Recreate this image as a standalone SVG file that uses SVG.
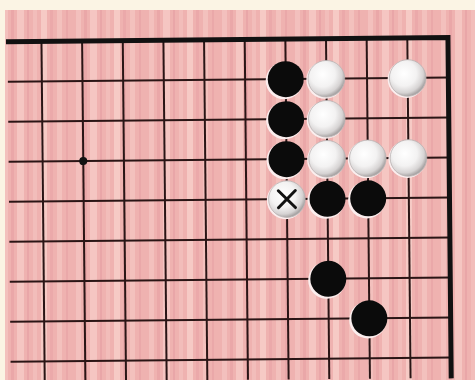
<svg xmlns="http://www.w3.org/2000/svg" width="475" height="380" viewBox="0 0 475 380">
<defs>
<style>
.ln{stroke:#2a1515;stroke-width:2;fill:none}
.edge{stroke:#111;stroke-width:5;fill:none;stroke-linecap:square}
.halo{fill:#fbeeee}
.b{fill:#0b0b0b}
.w{fill:url(#wg);stroke:#b9b4b4;stroke-width:0.8}
.x{stroke:#111;stroke-width:3;stroke-linecap:round}
</style>
<radialGradient id="wg" cx="40%" cy="38%" r="62%">
<stop offset="0" stop-color="#ffffff"/>
<stop offset="0.55" stop-color="#f3f2f2"/>
<stop offset="0.85" stop-color="#d6d3d3"/>
<stop offset="1" stop-color="#a9a5a5"/>
</radialGradient>
<pattern id="wood" patternUnits="userSpaceOnUse" width="73" height="380">
<rect width="73" height="380" fill="#efb2b0"/>
<rect x="3" width="5" height="380" fill="#f3c0bd"/>
<rect x="11" width="3" height="380" fill="#eaa7a8"/>
<rect x="17" width="7" height="380" fill="#f5c6c2"/>
<rect x="27" width="2" height="380" fill="#e9a6a8"/>
<rect x="33" width="4" height="380" fill="#f2bdba"/>
<rect x="41" width="6" height="380" fill="#f6cac5"/>
<rect x="50" width="3" height="380" fill="#eba9aa"/>
<rect x="57" width="5" height="380" fill="#f3c1bd"/>
<rect x="66" width="2" height="380" fill="#eaa8a9"/>
</pattern>
</defs>
<rect width="475" height="380" fill="#fbf4e4"/>
<rect x="5" y="10" width="470" height="370" fill="url(#wood)"/>
<g transform="rotate(-0.55 228 200)">
<g id="grid">
<line class="ln" x1="43" y1="39.7" x2="43" y2="380"/>
<line class="ln" x1="83.65" y1="39.7" x2="83.65" y2="380"/>
<line class="ln" x1="124.3" y1="39.7" x2="124.3" y2="380"/>
<line class="ln" x1="164.95" y1="39.7" x2="164.95" y2="380"/>
<line class="ln" x1="205.6" y1="39.7" x2="205.6" y2="380"/>
<line class="ln" x1="246.25" y1="39.7" x2="246.25" y2="380"/>
<line class="ln" x1="286.9" y1="39.7" x2="286.9" y2="380"/>
<line class="ln" x1="327.55" y1="39.7" x2="327.55" y2="380"/>
<line class="ln" x1="368.2" y1="39.7" x2="368.2" y2="380"/>
<line class="ln" x1="408.85" y1="39.7" x2="408.85" y2="380"/>
<line class="ln" x1="9" y1="79.7" x2="449.5" y2="79.7"/>
<line class="ln" x1="9" y1="119.7" x2="449.5" y2="119.7"/>
<line class="ln" x1="9" y1="159.7" x2="449.5" y2="159.7"/>
<line class="ln" x1="9" y1="199.7" x2="449.5" y2="199.7"/>
<line class="ln" x1="9" y1="239.7" x2="449.5" y2="239.7"/>
<line class="ln" x1="9" y1="279.7" x2="449.5" y2="279.7"/>
<line class="ln" x1="9" y1="319.7" x2="449.5" y2="319.7"/>
<line class="ln" x1="9" y1="359.7" x2="449.5" y2="359.7"/>
<polyline class="edge" points="10,39.7 449.5,39.7 449.5,378"/>
<circle cx="83.65" cy="159.7" r="4" fill="#111"/>
</g>
<g id="b1"><circle class="halo" cx="285.4" cy="81.2" r="18.6"/><circle class="b" cx="286.9" cy="79.7" r="18"/></g>
<g id="b2"><circle class="halo" cx="285.4" cy="121.2" r="18.6"/><circle class="b" cx="286.9" cy="119.7" r="18"/></g>
<g id="b3"><circle class="halo" cx="285.4" cy="161.2" r="18.6"/><circle class="b" cx="286.9" cy="159.7" r="18"/></g>
<g id="b4"><circle class="halo" cx="326.05" cy="201.2" r="18.6"/><circle class="b" cx="327.55" cy="199.7" r="18"/></g>
<g id="b5"><circle class="halo" cx="366.7" cy="201.2" r="18.6"/><circle class="b" cx="368.2" cy="199.7" r="18"/></g>
<g id="b6"><circle class="halo" cx="326.05" cy="281.2" r="18.6"/><circle class="b" cx="327.55" cy="279.7" r="18"/></g>
<g id="b7"><circle class="halo" cx="366.7" cy="321.2" r="18.6"/><circle class="b" cx="368.2" cy="319.7" r="18"/></g>
<g id="w1"><circle class="halo" cx="326.3" cy="80.9" r="18.8"/><circle class="w" cx="327.55" cy="79.7" r="18.3"/></g>
<g id="w2"><circle class="halo" cx="407.6" cy="80.9" r="18.8"/><circle class="w" cx="408.85" cy="79.7" r="18.3"/></g>
<g id="w3"><circle class="halo" cx="326.3" cy="120.9" r="18.8"/><circle class="w" cx="327.55" cy="119.7" r="18.3"/></g>
<g id="w4"><circle class="halo" cx="326.3" cy="160.9" r="18.8"/><circle class="w" cx="327.55" cy="159.7" r="18.3"/></g>
<g id="w5"><circle class="halo" cx="366.95" cy="160.9" r="18.8"/><circle class="w" cx="368.2" cy="159.7" r="18.3"/></g>
<g id="w6"><circle class="halo" cx="407.6" cy="160.9" r="18.8"/><circle class="w" cx="408.85" cy="159.7" r="18.3"/></g>
<g id="wx"><circle class="halo" cx="285.6" cy="200.9" r="18.8"/><circle class="w" cx="286.9" cy="199.7" r="18.3"/><line class="x" x1="278.4" y1="191.2" x2="295.4" y2="208.2"/><line class="x" x1="295.4" y1="191.2" x2="278.4" y2="208.2"/></g>
</g>
</svg>
